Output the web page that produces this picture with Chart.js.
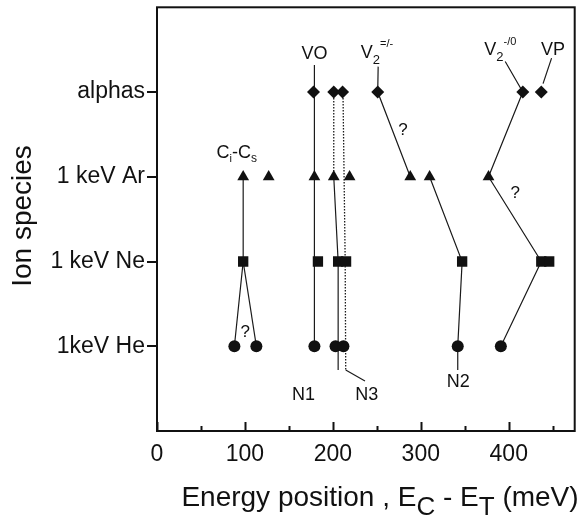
<!DOCTYPE html>
<html>
<head>
<meta charset="utf-8">
<script src="https://cdn.jsdelivr.net/npm/chart.js@4.4.0/dist/chart.umd.min.js"></script>
<style>
  html, body { margin: 0; padding: 0; background: #fff; }
</style>
</head>
<body>
<canvas id="levels" width="582" height="517"></canvas>
<script>
// tick labels of the y axis, bottom to top (y = 1..4)
var species = ['1keV He', '1 keV Ne', '1 keV Ar', 'alphas'];
var xTicks = [0, 50, 100, 150, 200, 250, 300, 350, 400, 450];

// level positions E_C - E_T (meV) per ion species
var heLevels = [88, 113, 179, 203, 212, 342, 391];
var neLevels = [98, 183, 206, 215, 347, 437, 446];
var arLevels = [98, 127, 179, 201, 219, 288, 310, 377];
var alphaLevels = [178, 201, 211, 251, 416, 437];

// guide lines joining the same defect across species, [energy, row]
var ciCsLeft = [[98, 3], [98, 2], [88, 1]];
var ciCsRight = [[98, 2], [113, 1]];
var voLine = [[179, 4.32], [179, 1]];
var n1Line = [[201, 3], [206, 2], [206, 0.72]];
var n2Line = [[310, 3], [347, 2], [342, 1], [342, 0.72]];
var v2aLine = [[251.5, 4.30], [251, 4], [288, 3]];
var v2bLine = [[396, 4.36], [416, 4], [377, 3], [437, 2], [391, 1]];
var vpLine = [[448.7, 4.40], [439, 4.10]];
var n3Leader = [[214.6, 0.72], [236.5, 0.59]];
var dotsA = [[201, 4], [201, 3]];
var dotsB = [[211.5, 4], [214, 2], [214.6, 0.72]];

// annotations: text parts (size, vertical shift), anchor [energy, row]
var notes = [
  { at: [179, 4.45], align: 'center', parts: [['VO', 18, 0]] },
  { at: [450.3, 4.49], align: 'center', parts: [['VP', 18, 0]] },
  { at: [231.8, 4.46], align: 'left', parts: [['V', 18, 0], ['2', 13, 7], ['=/-', 11, -9]] },
  { at: [372.2, 4.49], align: 'left', parts: [['V', 18, 0], ['2', 13, 7], ['-/0', 11, -9]] },
  { at: [67.8, 3.28], align: 'left', parts: [['C', 18, 0], ['i', 11, 6], ['-C', 18, 0], ['s', 12, 6]] },
  { at: [166.7, 0.42], align: 'center', parts: [['N1', 18, 0]] },
  { at: [238.5, 0.42], align: 'center', parts: [['N3', 18, 0]] },
  { at: [342.7, 0.58], align: 'center', parts: [['N2', 18, 0]] },
  { at: [279.8, 3.55], align: 'center', parts: [['?', 17, 0]] },
  { at: [407.4, 2.80], align: 'center', parts: [['?', 17, 0]] },
  { at: [100.3, 1.17], align: 'center', parts: [['?', 17, 0]] }
];

var FONT = '"Liberation Sans", Arial, sans-serif';
var INK = '#111';

function row(levels, y) {
  return levels.map(function(e) { return { x: e, y: y }; });
}
function pts(list) {
  return list.map(function(p) { return { x: p[0], y: p[1] }; });
}
function markers(levels, y, style, r) {
  return {
    type: 'scatter', data: row(levels, y), order: 0,
    pointStyle: style, pointRadius: r, pointHoverRadius: r,
    backgroundColor: INK, borderColor: INK, borderWidth: 0
  };
}
function guide(list, dashed) {
  return {
    type: 'line', data: pts(list), order: 1, showLine: true,
    pointRadius: 0, borderColor: '#1a1a1a', borderWidth: dashed ? 1.3 : 1.2,
    borderDash: dashed ? [1.5, 1.5] : [], tension: 0
  };
}

function drawParts(ctx, parts, x, y, align) {
  var total = 0;
  parts.forEach(function(p) {
    ctx.font = p[1] + 'px ' + FONT;
    total += ctx.measureText(p[0]).width;
  });
  var cx = align === 'center' ? x - total / 2 : x;
  parts.forEach(function(p) {
    ctx.font = p[1] + 'px ' + FONT;
    ctx.fillText(p[0], cx, y + p[2]);
    cx += ctx.measureText(p[0]).width;
  });
}

var frame = {
  id: 'frame',
  afterDraw: function(chart) {
    var ctx = chart.ctx, a = chart.chartArea;
    var xs = chart.scales.x, ys = chart.scales.y;
    ctx.save();
    ctx.strokeStyle = INK;
    ctx.lineWidth = 2;
    ctx.strokeRect(a.left, a.top, a.right - a.left, a.bottom - a.top);
    // inward tick marks on the energy axis
    xTicks.forEach(function(v) {
      var px = Math.round(xs.getPixelForValue(v)) + 0.5;
      var len = v % 100 === 0 ? 9 : 5;
      ctx.beginPath();
      ctx.moveTo(px, a.bottom);
      ctx.lineTo(px, a.bottom - len);
      ctx.stroke();
    });
    ctx.fillStyle = INK;
    ctx.textBaseline = 'middle';
    notes.forEach(function(n) {
      drawParts(ctx, n.parts, xs.getPixelForValue(n.at[0]), ys.getPixelForValue(n.at[1]), n.align);
    });
    // axis titles
    ctx.textBaseline = 'alphabetic';
    drawParts(ctx, [['Energy position , E', 28, 0], ['C', 26, 9], [' - E', 28, 0], ['T', 26, 9], [' (meV)', 28, 0]],
      380, 506, 'center');
    ctx.translate(23, 216);
    ctx.rotate(-Math.PI / 2);
    ctx.textAlign = 'center';
    ctx.textBaseline = 'middle';
    ctx.font = '28px ' + FONT;
    ctx.fillText('Ion species', 0, 0);
    ctx.restore();
  }
};

new Chart(document.getElementById('levels'), {
  type: 'scatter',
  data: {
    datasets: [
      markers(alphaLevels, 4, 'rectRot', 6.5),
      markers(arLevels, 3, 'triangle', 6.8),
      markers(neLevels, 2, 'rect', 7.3),
      markers(heLevels, 1, 'circle', 6),
      guide(ciCsLeft), guide(ciCsRight), guide(voLine), guide(n1Line),
      guide(n2Line), guide(v2aLine), guide(v2bLine), guide(vpLine),
      guide(n3Leader), guide(dotsA, true), guide(dotsB, true)
    ]
  },
  options: {
    responsive: false,
    animation: false,
    devicePixelRatio: 1,
    layout: { padding: { top: 7, right: 3, left: 0, bottom: 0 } },
    plugins: { legend: { display: false }, tooltip: { enabled: false } },
    scales: {
      x: {
        type: 'linear', min: 0, max: 475,
        afterBuildTicks: function(s) { s.ticks = xTicks.map(function(v) { return { value: v }; }); },
        afterFit: function(s) { s.height = 86; s.paddingLeft = 0; s.paddingRight = 0; },
        grid: { display: false, drawTicks: false },
        border: { display: false },
        ticks: {
          color: INK, padding: 10, maxRotation: 0, autoSkip: false,
          font: { family: FONT, size: 23 },
          callback: function(v) { return v % 100 === 0 ? v : ''; }
        }
      },
      y: {
        type: 'linear', min: 0, max: 5,
        afterBuildTicks: function(s) { s.ticks = [1, 2, 3, 4].map(function(v) { return { value: v }; }); },
        afterFit: function(s) { s.width = 157; s.paddingTop = 0; s.paddingBottom = 0; },
        grid: { drawOnChartArea: false, drawTicks: true, tickLength: 10, color: INK, lineWidth: 2 },
        border: { display: false },
        ticks: {
          color: INK, padding: 2,
          font: { family: FONT, size: 23 },
          callback: function(v) { return species[v - 1]; }
        }
      }
    }
  },
  plugins: [frame]
});
</script>
</body>
</html>
